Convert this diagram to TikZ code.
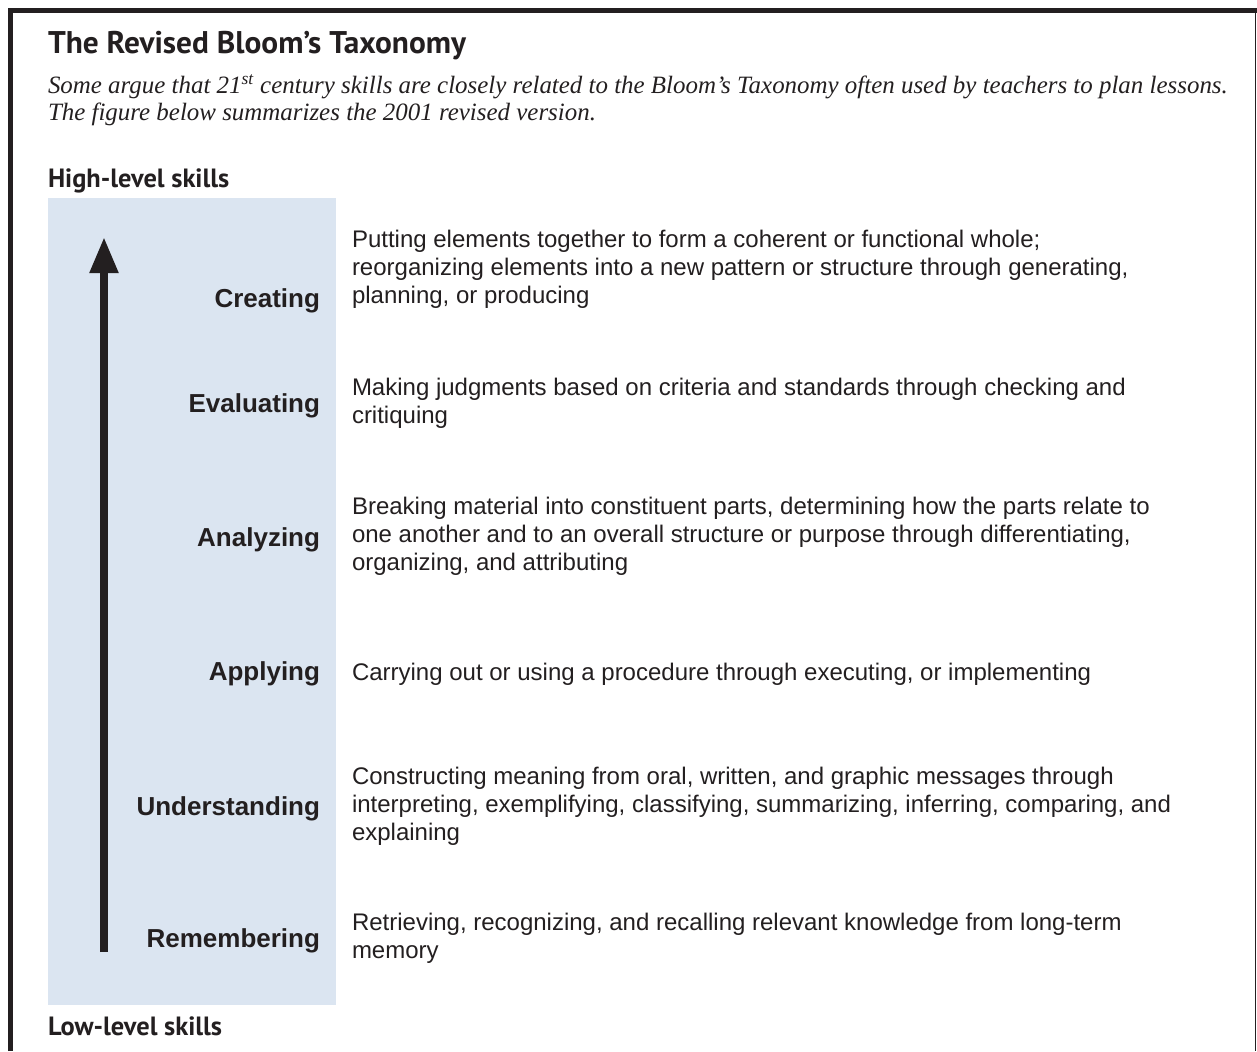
\documentclass[tikz,border=0pt]{standalone}
\usepackage{fontspec}
\setmainfont{Liberation Serif}
\newfontfamily\arialf{Liberation Sans}
\newfontfamily\myriadf{PT Sans}
\usetikzlibrary{arrows.meta}
\definecolor{ink}{HTML}{231F20}
\definecolor{boxblue}{HTML}{DBE5F1}
\begin{document}
\begin{tikzpicture}[x=0.75pt,y=-0.75pt,
  every node/.style={inner sep=0pt, outer sep=0pt, text=ink},
  heading/.style={font=\myriadf\bfseries\fontsize{19.8}{22}\selectfont, anchor=base west},
  levelname/.style={font=\arialf\bfseries\fontsize{19.5}{21}\selectfont, anchor=base east},
  desc/.style={font=\arialf\fontsize{18}{21}\selectfont, anchor=base west, align=left}]
\useasboundingbox (0,0) rectangle (1257,1051);
\fill[white] (0,0) rectangle (1257,1051);
% frame
\draw[ink, line width=3.75pt] (10.5,1051) -- (10.5,10.5) -- (1257,10.5);
\draw[ink, line width=1.3pt] (1255.5,10.5) -- (1255.5,1051);
% title and intro (base anchor of a multi-line node = baseline of its last line)
\node[font=\myriadf\bfseries\fontsize{23.5}{28}\selectfont, anchor=base west] (title) at (48,53) {The Revised Bloom’s Taxonomy};
\node[font=\itshape\fontsize{18.7}{20.25}\selectfont, anchor=base west, align=left] (intro) at (48,120)
  {Some argue that 21\textsuperscript{st} century skills are closely related to the Bloom’s Taxonomy often used by teachers to plan lessons.\\
   The figure below summarizes the 2001 revised version.};
% headings
\node[heading] (high) at (48,187) {High-level skills};
\node[heading] (low) at (48,1035) {Low-level skills};
% blue band
\fill[boxblue] (48,198) rectangle (336,1005);
% arrow
\coordinate (abot) at (104,952);
\coordinate (atop) at (104,237);
\draw[ink, line width=6pt, -{Triangle[length=27pt,width=20.25pt]}] (abot) -- (atop);
% levels
\node[levelname] (cre) at (320,307) {Creating};
\node[desc] (cred) at (352,303) {Putting elements together to form a coherent or functional whole;\\reorganizing elements into a new pattern or structure through generating,\\planning, or producing};
\node[levelname] (eva) at (320,412) {Evaluating};
\node[desc] (evad) at (352,423) {Making judgments based on criteria and standards through checking and\\critiquing};
\node[levelname] (ana) at (320,546) {Analyzing};
\node[desc] (anad) at (352,570) {Breaking material into constituent parts, determining how the parts relate to\\one another and to an overall structure or purpose through differentiating,\\organizing, and attributing};
\node[levelname] (app) at (320,680) {Applying};
\node[desc] (appd) at (352,680) {Carrying out or using a procedure through executing, or implementing};
\node[levelname] (und) at (320,815) {Understanding};
\node[desc] (undd) at (352,840) {Constructing meaning from oral, written, and graphic messages through\\interpreting, exemplifying, classifying, summarizing, inferring, comparing, and\\explaining};
\node[levelname] (rem) at (320,947) {Remembering};
\node[desc] (remd) at (352,958) {Retrieving, recognizing, and recalling relevant knowledge from long-term\\memory};
\end{tikzpicture}
\end{document}
